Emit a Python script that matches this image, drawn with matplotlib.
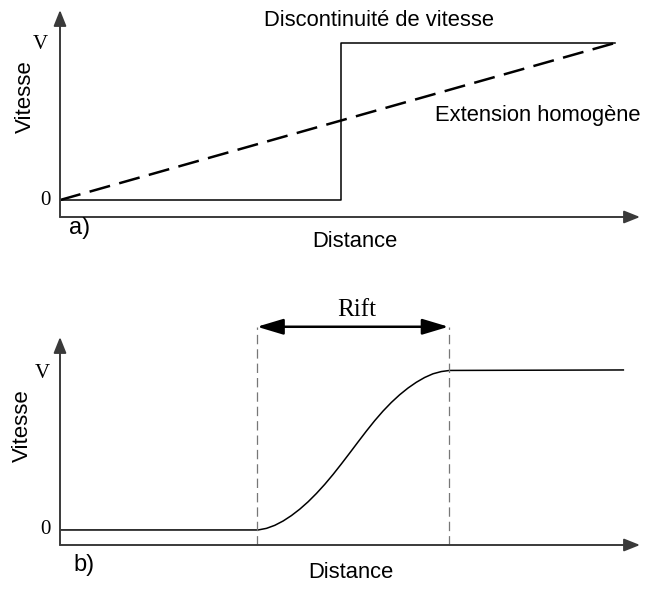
"""Vitesse en fonction de la distance : discontinuite vs extension homogene, puis rift."""
import matplotlib
matplotlib.use("Agg")
import matplotlib.pyplot as plt

# panel a) : step (discontinuite) and linear ramp (extension homogene)
step_x = [0, 50.6, 50.6, 100]
step_v = [0, 0, 1, 1]
ramp_x = [0, 100]
ramp_v = [0, 1]

# panel b) : velocity across the rift
rift_start, rift_end = 35.5, 70.0
rift_x = [0, 35.7, 37.2, 38.7, 40.2, 41.7, 43.2, 44.7, 46.2, 47.7, 49.2,
          50.7, 52.2, 53.7, 55.2, 56.7, 58.2, 59.7, 61.2, 62.7, 64.2,
          65.7, 67.2, 68.7, 70.2, 101.5]
rift_v = [0, 0, 0.010, 0.029, 0.056, 0.090, 0.130, 0.176, 0.228, 0.285,
          0.347, 0.413, 0.481, 0.550, 0.618, 0.683, 0.743, 0.797, 0.845,
          0.887, 0.923, 0.953, 0.976, 0.990, 0.997, 1.0]

sans = "Liberation Sans"
serif = "Liberation Serif"
axis_col = "#3a3a3a"

fig = plt.figure(figsize=(6.47, 5.89), dpi=100)
W, H = 647, 589


def make_axes(top_px, bottom_px):
    ax = fig.add_axes([60 / W, 1 - bottom_px / H, 580 / W,
                       (bottom_px - top_px) / H])
    for s in ax.spines.values():
        s.set_visible(False)
    ax.set_xticks([])
    ax.set_yticks([])
    ax.patch.set_alpha(0)
    arrow = dict(arrowstyle="-|>,head_length=0.8,head_width=0.32",
                 color=axis_col, lw=1.4, mutation_scale=12,
                 shrinkA=0, shrinkB=0)
    ax.annotate("", xy=(1, 0), xytext=(0, 0), xycoords="axes fraction",
                arrowprops=arrow)
    ax.annotate("", xy=(0, 1), xytext=(0, 0), xycoords="axes fraction",
                arrowprops=arrow)
    return ax


# a)
ax1 = make_axes(10, 217)
ax1.set_xlim(0, 104.5)
ax1.set_ylim(-0.108, 1.21)
ax1.plot(step_x, step_v, color="black", lw=1.1)
ax1.plot(ramp_x, ramp_v, color="black", lw=1.8, dashes=(8.5, 3.8))
ax1.text(57.5, 1.146, "Discontinuité de vitesse", family=sans, fontsize=15.8,
         ha="center", va="center", clip_on=False)
ax1.text(67.6, 0.54, "Extension homogène", family=sans, fontsize=15.8,
         ha="left", va="center", clip_on=False)
ax1.text(0.508, -0.12, "Distance", family=sans, fontsize=15.8,
         ha="center", va="center", transform=ax1.transAxes)
ax1.text(-3.5, 0.99, "V", family=serif, fontsize=15, ha="center",
         va="center", clip_on=False)
ax1.text(-2.7, 0, "0", family=serif, fontsize=15, ha="center",
         va="center", clip_on=False)
ax1.text(-6.3, 0.656, "Vitesse", family=sans, fontsize=16, rotation=90,
         ha="center", va="center", clip_on=False)
ax1.text(3.6, -0.178, "a)", family=sans, fontsize=17, ha="center",
         va="center", clip_on=False)

# b)
ax2 = make_axes(337, 545)
ax2.set_xlim(0, 104.5)
ax2.set_ylim(-0.094, 1.206)
ax2.plot(rift_x, rift_v, color="black", lw=1.1, solid_joinstyle="round")
for xr in (rift_start, rift_end):
    ax2.plot([xr, xr], [-0.094, 1.27], color="#777777", lw=0.9,
             dashes=(7.5, 4), clip_on=False)
ax2.annotate("", xy=(rift_end, 1.27), xytext=(rift_start, 1.27),
             xycoords="data", annotation_clip=False,
             arrowprops=dict(arrowstyle="<|-|>,head_length=1.0,head_width=0.3",
                             color="black", lw=1.8, mutation_scale=16,
                             shrinkA=0, shrinkB=0))
ax2.text((rift_start + rift_end) / 2 + 0.8, 1.375, "Rift", family=serif,
         fontsize=18, ha="center", va="center", clip_on=False)
ax2.text(0.502, -0.13, "Distance", family=sans, fontsize=15.8,
         ha="center", va="center", transform=ax2.transAxes)
ax2.text(-3.2, 0.98, "V", family=serif, fontsize=15, ha="center",
         va="center", clip_on=False)
ax2.text(-2.7, 0, "0", family=serif, fontsize=15, ha="center",
         va="center", clip_on=False)
ax2.text(-6.8, 0.65, "Vitesse", family=sans, fontsize=16, rotation=90,
         ha="center", va="center", clip_on=False)
ax2.text(4.3, -0.219, "b)", family=sans, fontsize=17, ha="center",
         va="center", clip_on=False)

fig.savefig("out.png", dpi=100)
